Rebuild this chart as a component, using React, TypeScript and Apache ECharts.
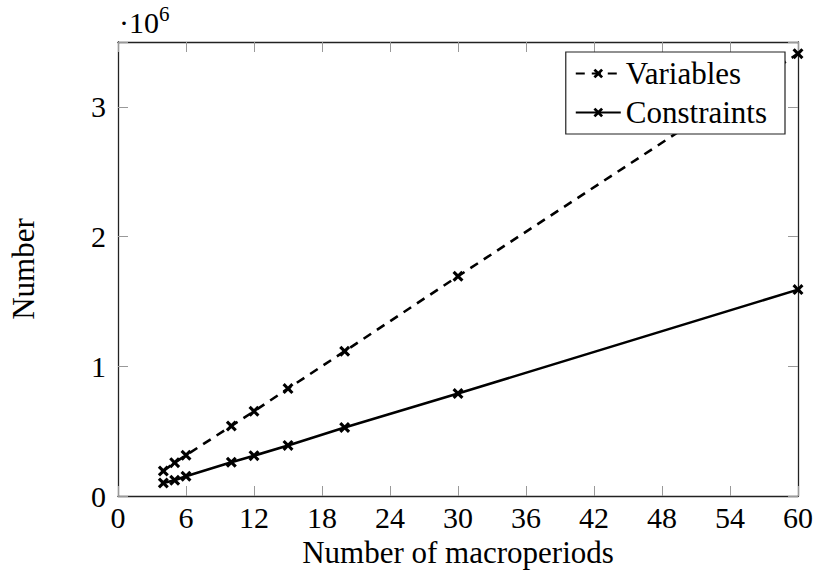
import React, { useEffect, useRef } from "react";
import * as echarts from "echarts";

const periods = [4, 5, 6, 10, 12, 15, 20, 30, 60];
const variables = [193000, 257000, 314000, 540000, 653000, 828000, 1116000, 1694000, 3410000];
const constraints = [100000, 121000, 152000, 260000, 311000, 390000, 528000, 790000, 1591000];
const seriesNames = ["Variables", "Constraints"];
const xAxisTitle = "Number of macroperiods";
const yAxisTitle = "Number";

const FONT = "Liberation Serif, serif";
const FS = 30;
const CROSS = "path://M2,0 L5,3 L8,0 L10,2 L7,5 L10,8 L8,10 L5,7 L2,10 L0,8 L3,5 L0,2 Z";

export default function App() {
  const ref = useRef<HTMLDivElement>(null);
  useEffect(() => {
    document.body.style.margin = "0";
    if (!ref.current) return;
    const chart = echarts.init(ref.current, null, { renderer: "svg" });
    const axisLine = { show: true, onZero: false, lineStyle: { color: "#222", width: 1.3 } };
    const tick = { show: true, inside: true, length: 10, lineStyle: { color: "#999", width: 1 } };
    chart.setOption({
      animation: false,
      backgroundColor: "#fff",
      textStyle: { fontFamily: FONT, color: "#000" },
      grid: { left: 118, right: 17, top: 42, bottom: 79, containLabel: false },
      legend: {
        orient: "vertical",
        right: 31,
        top: 52,
        padding: [6, 18, 6, 9],
        itemGap: 8,
        itemWidth: 45,
        itemHeight: 12,
        borderColor: "#222",
        borderWidth: 1.2,
        borderRadius: 0,
        backgroundColor: "#fff",
        textStyle: { fontFamily: FONT, fontSize: 31, color: "#000", lineHeight: 30 },
        data: seriesNames,
      },
      xAxis: [
        {
          type: "value",
          min: 0,
          max: 60,
          interval: 6,
          name: xAxisTitle,
          nameLocation: "middle",
          nameGap: 40,
          nameTextStyle: { fontFamily: FONT, fontSize: FS + 1, color: "#000" },
          axisLine,
          axisTick: tick,
          splitLine: { show: false },
          axisLabel: { fontFamily: FONT, fontSize: FS, color: "#000", margin: 6 },
        },
        {
          type: "value",
          position: "top",
          min: 0,
          max: 60,
          interval: 6,
          axisLine,
          axisTick: tick,
          splitLine: { show: false },
          axisLabel: { show: false },
        },
      ],
      yAxis: [
        {
          type: "value",
          min: 0,
          max: 3500000,
          interval: 1000000,
          name: yAxisTitle,
          nameLocation: "middle",
          nameGap: 79,
          nameRotate: 90,
          nameTextStyle: { fontFamily: FONT, fontSize: FS + 1, color: "#000" },
          axisLine,
          axisTick: tick,
          splitLine: { show: false },
          axisLabel: {
            fontFamily: FONT,
            fontSize: FS,
            color: "#000",
            margin: 12,
            formatter: (v: number) => (v % 1000000 === 0 ? String(v / 1000000) : ""),
          },
        },
        {
          type: "value",
          position: "right",
          min: 0,
          max: 3500000,
          interval: 1000000,
          axisLine,
          axisTick: tick,
          splitLine: { show: false },
          axisLabel: { show: false },
        },
      ],
      graphic: [
        {
          type: "text",
          left: 119,
          top: 3,
          style: {
            text: "{a|·10}{b|6}",
            rich: {
              a: { fontFamily: FONT, fontSize: FS, fill: "#000", verticalAlign: "bottom", lineHeight: 34 },
              b: { fontFamily: FONT, fontSize: 21, fill: "#000", verticalAlign: "top", lineHeight: 34, padding: [0, 0, 8, 0] },
            },
          },
        },
      ],
      series: [
        {
          name: seriesNames[0],
          type: "line",
          data: periods.map((p, i) => [p, variables[i]]),
          symbol: CROSS,
          symbolSize: 11,
          itemStyle: { color: "#000" },
          lineStyle: { color: "#000", width: 2.6, type: [9, 7] },
          z: 3,
        },
        {
          name: seriesNames[1],
          type: "line",
          data: periods.map((p, i) => [p, constraints[i]]),
          symbol: CROSS,
          symbolSize: 11,
          itemStyle: { color: "#000" },
          lineStyle: { color: "#000", width: 2.6, type: "solid" },
          z: 3,
        },
      ],
    });
    return () => chart.dispose();
  }, []);
  return <div ref={ref} style={{ width: 816, height: 575 }} />;
}
